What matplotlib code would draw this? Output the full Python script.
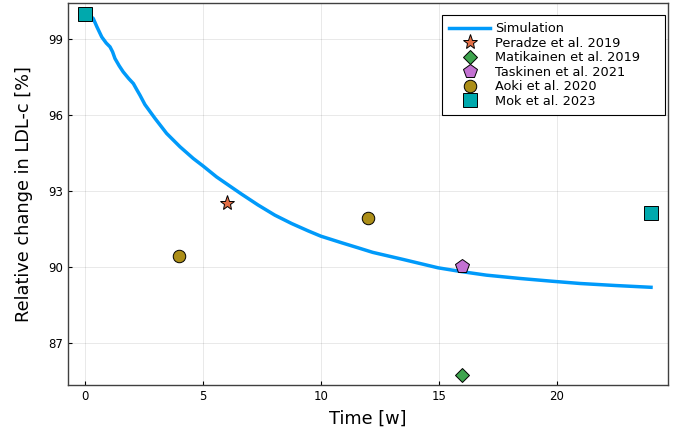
import matplotlib
matplotlib.use("Agg")
import matplotlib.pyplot as plt

# simulated curve
sim_t = [0, 0.15, 0.35, 0.5, 0.71, 0.9, 1.06, 1.17, 1.27, 1.45, 1.62, 1.85, 2.05, 2.2,
         2.33, 2.54, 2.97, 3.46, 4.03, 4.59, 5.01, 5.58, 6.14, 6.64, 7.34, 8.05, 8.76,
         9.46, 10.0, 10.88, 11.58, 12.2, 13.49, 14.97, 15.96, 17.02, 18.43, 19.8, 21.0,
         22.5, 24.0]
sim_y = [100, 99.97, 99.82, 99.5, 99.09, 98.85, 98.70, 98.5, 98.24, 97.95, 97.71,
         97.45, 97.25, 97.0, 96.79, 96.42, 95.87, 95.28, 94.75, 94.29, 93.99, 93.56,
         93.2, 92.88, 92.45, 92.05, 91.72, 91.43, 91.22, 90.96, 90.76, 90.58, 90.30,
         89.97, 89.82, 89.68, 89.55, 89.44, 89.35, 89.27, 89.2]

# study data
peradze_t = [6]
peradze_y = [92.55]
matikainen_t = [16]
matikainen_y = [85.75]
taskinen_t = [16]
taskinen_y = [90.03]
aoki_t = [4, 12]
aoki_y = [90.42, 91.95]
mok_t = [0, 24]
mok_y = [100, 92.12]

xticks = [0, 5, 10, 15, 20]
yticks = [87, 90, 93, 96, 99]

fig = plt.figure(figsize=(6.81, 4.37), dpi=100)
ax = fig.add_axes([0.0999, 0.119, 0.881, 0.874])

ax.plot(sim_t, sim_y, color="#009AFA", lw=2.5, label="Simulation", zorder=2)
ax.plot(peradze_t, peradze_y, ls="none", marker="*", ms=11, mfc="#E36F47", mec="black",
        mew=0.7, label="Peradze et al. 2019", zorder=3)
ax.plot(matikainen_t, matikainen_y, ls="none", marker="D", ms=7.5, mfc="#3EA44E", mec="black",
        mew=0.7, label="Matikainen et al. 2019", zorder=3)
ax.plot(taskinen_t, taskinen_y, ls="none", marker="p", ms=10, mfc="#C371D2", mec="black",
        mew=0.7, label="Taskinen et al. 2021", zorder=3)
ax.plot(aoki_t, aoki_y, ls="none", marker="o", ms=9, mfc="#AC8E18", mec="black",
        mew=0.7, label="Aoki et al. 2020", zorder=3)
ax.plot(mok_t, mok_y, ls="none", marker="s", ms=9.5, mfc="#00A9AD", mec="black",
        mew=0.7, label="Mok et al. 2023", zorder=3)

ax.set_xlim(-0.72, 24.72)
ax.set_ylim(85.34, 100.43)
ax.set_xticks(xticks)
ax.set_yticks(yticks)
ax.grid(True, color="black", alpha=0.1, lw=0.6)
ax.tick_params(direction="in", length=3, labelsize=8.5, top=False, right=False)
for s in ax.spines.values():
    s.set_color("#404040")
    s.set_linewidth(1)

ax.set_xlabel("Time [w]", fontsize=12.8, labelpad=5)
ax.set_ylabel("Relative change in LDL-c [%]", fontsize=12.8, labelpad=11)

leg = ax.legend(loc="upper left", fontsize=9.3, frameon=True, fancybox=False,
                edgecolor="black", framealpha=1, borderaxespad=0.0,
                mode="expand", bbox_to_anchor=(0.623, 0.70, 0.372, 0.2686),
                handlelength=3.2, handletextpad=0.4, labelspacing=0.12,
                borderpad=0.55)
leg.get_frame().set_linewidth(0.8)

fig.savefig("out.png", dpi=100)
